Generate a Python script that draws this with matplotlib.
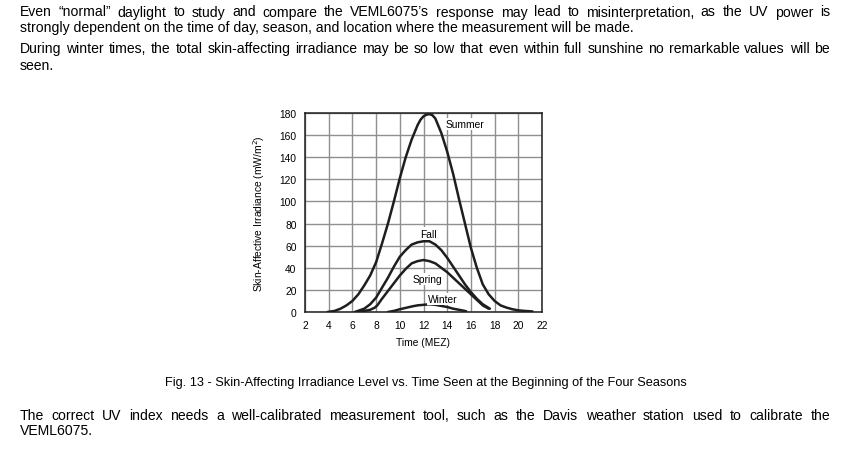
import matplotlib
matplotlib.use("Agg")
import matplotlib.pyplot as plt

plt.rcParams['font.family'] = ['Liberation Sans', 'DejaVu Sans']

W, H = 852, 456

# page text around the figure
para_1 = ["Even \u201cnormal\u201d daylight to study and compare the VEML6075\u2019s response may lead to misinterpretation, as the UV power is",
          "strongly dependent on the time of day, season, and location where the measurement will be made."]
para_2 = ["During winter times, the total skin-affecting irradiance may be so low that even within full sunshine no remarkable values will be",
          "seen."]
caption = "Fig. 13 - Skin-Affecting Irradiance Level vs. Time Seen at the Beginning of the Four Seasons"
para_3 = ["The correct UV index needs a well-calibrated measurement tool, such as the Davis weather station used to calibrate the",
          "VEML6075."]

# curves (time in h, irradiance in mW/m2)
summer_t = [3.9, 4.5, 5, 5.5, 6, 6.5, 7, 7.5, 8, 8.5, 9, 9.5, 10, 10.5, 11, 11.5, 11.75, 12, 12.25, 12.5,
            12.75, 13, 13.5, 14, 14.5, 15, 15.5, 16, 16.5, 17, 17.5, 18, 18.5, 19, 19.5, 20, 20.5, 21.2]
summer_v = [0, 1, 3, 6, 10, 16, 24, 33, 45, 62, 80, 100, 121, 140, 156, 169, 174, 177, 178.5, 179,
            178, 175, 162, 145, 125, 102, 80, 58, 40, 25, 16, 10, 6, 4, 2.5, 1.5, 1, 0.5]

fall_t = [6.2, 7, 7.5, 8, 8.5, 9, 9.5, 10, 10.5, 11, 11.5, 12, 12.5, 13, 13.5, 14, 14.5,
          15, 15.5, 16, 16.5, 17, 17.6]
fall_v = [0, 3, 7, 13, 22, 31, 41, 50, 56, 61, 63, 64, 64, 61, 56, 49, 41, 33, 25, 18, 12, 7, 3]

spring_t = [6.5, 7, 7.5, 7.9, 8.1, 8.5, 9, 9.5, 10, 10.5, 11, 11.5, 12, 12.5, 13, 13.5, 14,
            14.5, 15, 15.5, 16, 16.5, 17, 17.5]
spring_v = [0, 1, 2, 4, 6, 12, 19, 26, 33, 39, 44, 46, 47, 46, 44, 40, 36, 31, 26, 21, 16, 11, 6, 3]

winter_t = [9, 9.5, 10, 10.5, 11, 11.5, 12, 12.5, 13, 13.5, 14, 14.5, 15, 15.6]
winter_v = [0, 1, 2.5, 3.7, 5, 6, 6.5, 7, 6.5, 5.5, 4.5, 3, 2, 0.7]

labels = ["Summer", "Fall", "Spring", "Winter"]
label_x = [15.5, 12.4, 12.3, 13.6]
label_y = [170, 71, 30, 12]

x_ticks = list(range(2, 23, 2))
y_ticks = list(range(0, 181, 20))

fig = plt.figure(figsize=(W / 100, H / 100), dpi=100)
renderer = fig.canvas.get_renderer()

BODY = 10.1
X0, X1 = 20, 830


def put_line(text, y, justify):
    # y is the baseline in pixels from the top
    if not justify:
        fig.text(X0 / W, 1 - y / H, text, fontsize=BODY, va='baseline', ha='left')
        return
    words = text.split()
    items = []
    total = 0
    for w in words:
        t = fig.text(0, 1 - y / H, w, fontsize=BODY, va='baseline', ha='left')
        width = t.get_window_extent(renderer).width
        items.append((t, width))
        total += width
    gap = (X1 - X0 - total) / (len(words) - 1)
    x = X0
    for t, width in items:
        t.set_x(x / W)
        x += width + gap


put_line(para_1[0], 16.5, True)
put_line(para_1[1], 32, False)
put_line(para_2[0], 53, True)
put_line(para_2[1], 70, False)
put_line(para_3[0], 420, True)
put_line(para_3[1], 435, False)

fig.text(425.5 / W, 1 - 386.5 / H, caption, fontsize=9.2, ha='center', va='baseline')

ax = fig.add_axes([305 / W, 1 - 313 / H, 237 / W, 199 / H])
for tt, vv in [(summer_t, summer_v), (fall_t, fall_v), (spring_t, spring_v), (winter_t, winter_v)]:
    ax.plot(tt, vv, color='#1e1e1e', lw=1.8, solid_capstyle='round',
            solid_joinstyle='round', zorder=3)

for name, lx, ly in zip(labels, label_x, label_y):
    ax.text(lx, ly, name, fontsize=7.4, ha='center', va='center', zorder=4,
            bbox=dict(boxstyle='square,pad=0.1', fc='white', ec='none'))

ax.set_xlim(2, 22)
ax.set_ylim(0, 180)
ax.set_xticks(x_ticks)
ax.set_yticks(y_ticks)
ax.grid(True, color='#8f8f8f', lw=1.0)
ax.set_axisbelow(True)
ax.tick_params(length=0, labelsize=7.4, pad=6)
for s in ax.spines.values():
    s.set_linewidth(1.1)
    s.set_color('#1e1e1e')
ax.set_xlabel("Time (MEZ)", fontsize=7.4, labelpad=5)
ax.set_ylabel("Skin-Affective Irradiance (mW/m$^2$)", fontsize=7.4, labelpad=9)

fig.savefig("out.png", dpi=100)
